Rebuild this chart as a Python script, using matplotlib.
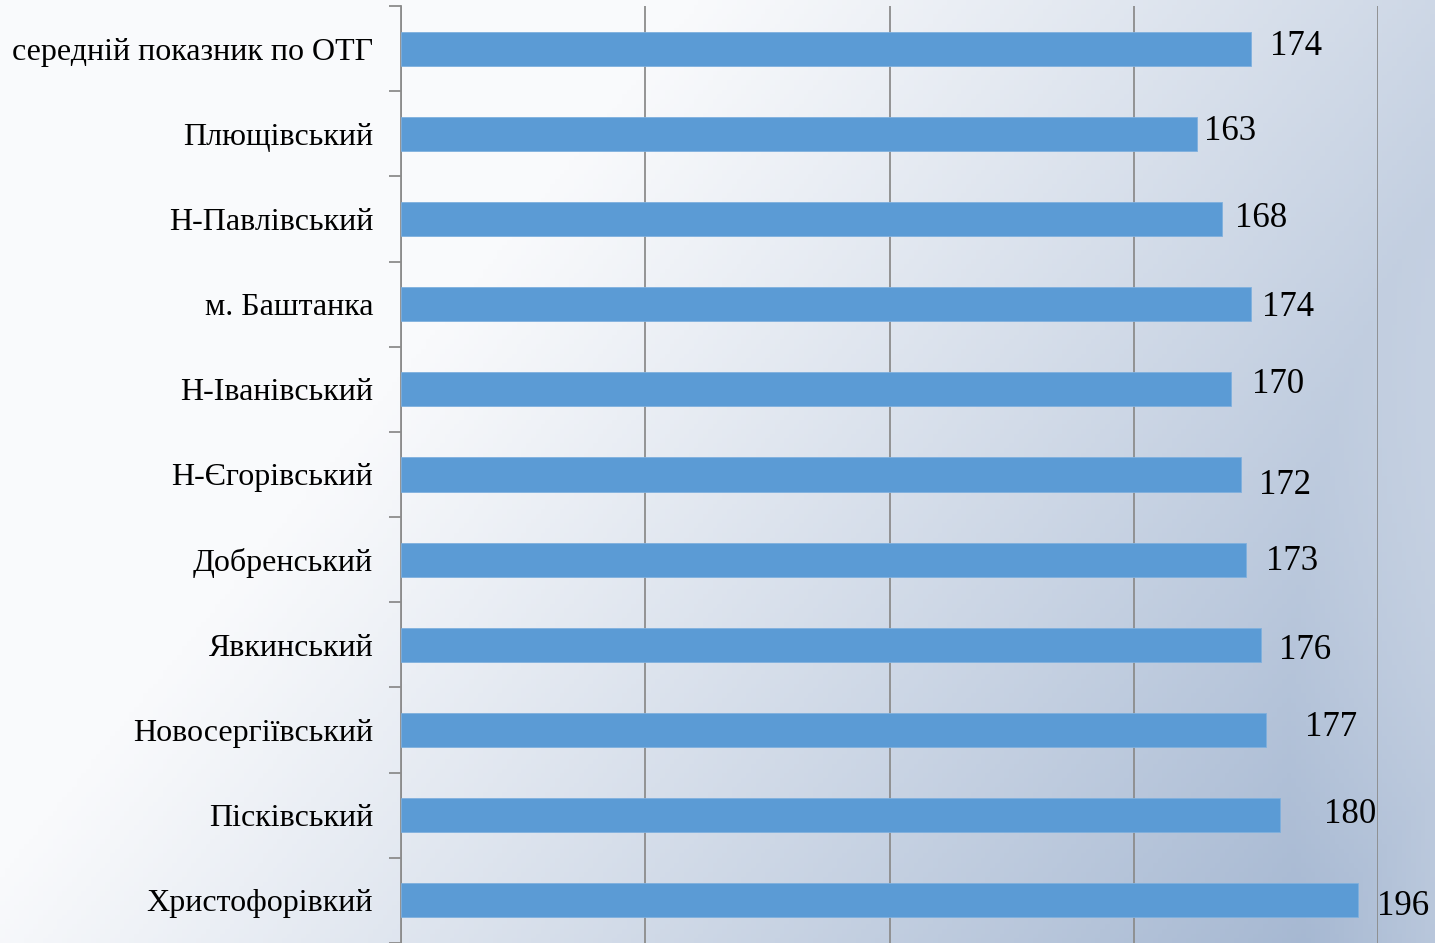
import numpy as np
import matplotlib
matplotlib.use("Agg")
import matplotlib.pyplot as plt
from matplotlib.colors import to_rgb

categories = ["середній показник по ОТГ", "Плющівський", "Н-Павлівський", "м. Баштанка",
              "Н-Іванівський", "Н-Єгорівський", "Добренський", "Явкинський",
              "Новосергіївський", "Пісківський", "Христофорівкий"]
values = [174, 163, 168, 174, 170, 172, 173, 176, 177, 180, 196]
x_ticks = [0, 50, 100, 150, 200]

# label offsets in pixels (dx right, dy up) from bar end
label_offsets = [(19, 2), (7, 2), (13, 0), (11, -3), (21, 5), (18, -11),
                 (20, -2), (18, -6), (39, 3), (44, 1), (19, -6)]

W, H = 1435, 943
fig = plt.figure(figsize=(W / 100, H / 100), dpi=100)

# background gradient
bg = fig.add_axes([0, 0, 1, 1], zorder=-10)
gx = np.linspace(0, 1, 300)
gy = np.linspace(0, 1, 200)
X, Y = np.meshgrid(gx, gy)
t = np.clip((X - 0.33) * 1.05 + (Y - 0.3) * 0.55, 0, 1)
t = t ** 1.05
# lighter swoosh at far right bottom
d = np.sqrt(((X - 1.17) / 0.27) ** 2 + ((Y - 0.8) / 0.75) ** 2)
sw = np.clip(1 - d, 0, 1) * 0.7
t = np.clip(t - sw, 0, 1)
c0 = np.array(to_rgb("#f9fafc"))
c1 = np.array(to_rgb("#a6b8d2"))
img = c0[None, None, :] * (1 - t[..., None]) + c1[None, None, :] * t[..., None]
bg.imshow(img, aspect="auto", extent=[0, 1, 0, 1], origin="upper")
bg.set_axis_off()

ax = fig.add_axes([401 / W, 0, 977 / W, 1 - 6 / H])
ax.patch.set_alpha(0)

ypos = np.arange(len(categories))
ax.barh(ypos, values, height=0.4, color="#5b9bd5", edgecolor="#7fb0de", linewidth=0.6, zorder=3)

ax.set_xlim(0, 200)
ax.set_ylim(len(categories) - 0.5, -0.5)
ax.set_xticks(x_ticks)
ax.tick_params(axis="x", length=0, labelbottom=False)
ax.grid(axis="x", color="#8c8c8c", linewidth=1.3, zorder=0)
ax.set_axisbelow(True)

for s in ["top", "right", "bottom"]:
    ax.spines[s].set_visible(False)
ax.spines["left"].set_color("#8c8c8c")
ax.spines["left"].set_linewidth(1.3)

ax.set_yticks(ypos)
ax.set_yticklabels(categories, fontsize=23, family="Liberation Serif", color="black")
ax.tick_params(axis="y", length=0, pad=20)
ax.set_yticks(np.arange(-0.5, len(categories) - 0.4, 1), minor=True)
ax.tick_params(axis="y", which="minor", length=9, width=1.3, color="#8c8c8c", direction="out")

for i, v in enumerate(values):
    dx, dy = label_offsets[i]
    ax.annotate(str(v), xy=(v, i), xytext=(dx, dy), textcoords="offset pixels",
                ha="left", va="center", fontsize=25, family="Liberation Serif",
                color="black", zorder=5, annotation_clip=False)

fig.savefig("out.png", dpi=100)
